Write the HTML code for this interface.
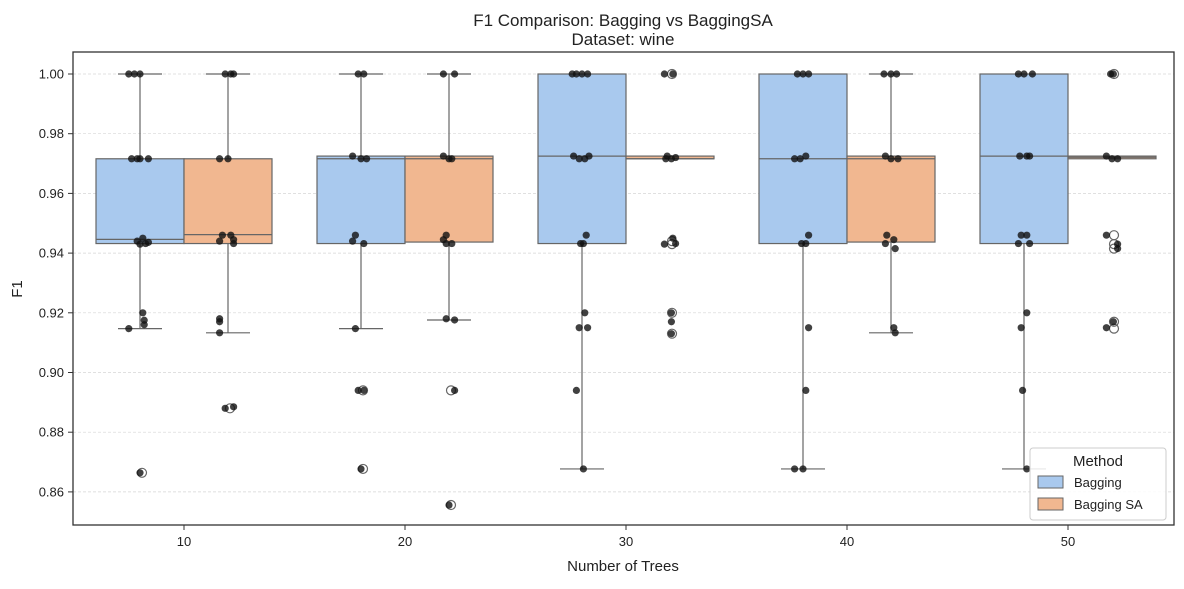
<!DOCTYPE html>
<html><head><meta charset="utf-8"><style>
body{margin:0;background:#fff}
svg text{font-family:"Liberation Sans",sans-serif;fill:#222}
</style></head><body>
<svg width="1184" height="584" viewBox="0 0 1184 584">
<text x="623" y="26" text-anchor="middle" font-size="17">F1 Comparison: Bagging vs BaggingSA</text>
<text x="623" y="45" text-anchor="middle" font-size="17">Dataset: wine</text>
<g id="grid"></g><g id="boxes"></g><g id="pts"></g><g id="axes"></g>
<text x="623" y="571" text-anchor="middle" font-size="15">Number of Trees</text>
<text transform="translate(22,289) rotate(-90)" text-anchor="middle" font-size="15">F1</text>
<rect x="73" y="52" width="1101" height="473" fill="none" stroke="#333" stroke-width="1.3"/>
<g>
<rect x="1030" y="448" width="136" height="72" rx="3" fill="#fff" fill-opacity="0.85" stroke="#ccc"/>
<text x="1098" y="466" text-anchor="middle" font-size="15">Method</text>
<rect x="1038" y="476" width="25" height="12" fill="#a9c9ee" stroke="#666"/>
<text x="1074" y="487" font-size="13">Bagging</text>
<rect x="1038" y="498" width="25" height="12" fill="#f1b790" stroke="#666"/>
<text x="1074" y="509" font-size="13">Bagging SA</text>
</g>
</svg>
<script>
const categories=["10","20","30","40","50"];
const yTicks=[0.86,0.88,0.90,0.92,0.94,0.96,0.98,1.00];
const baggingQ1=[0.9432,0.9432,0.9432,0.9432,0.9432];
const baggingMed=[0.9446,0.9716,0.9725,0.9716,0.9725];
const baggingQ3=[0.9716,0.9725,1.0,1.0,1.0];
const baggingLo=[0.9147,0.9147,0.8677,0.8677,0.8677];
const baggingHi=[1.0,1.0,1.0,1.0,1.0];
const saQ1=[0.9432,0.9437,0.9716,0.9437,0.9716];
const saMed=[0.9462,0.9716,0.9716,0.9716,0.9721];
const saQ3=[0.9716,0.9725,0.9725,0.9725,0.9725];
const saLo=[0.9133,0.9176,0.9716,0.9133,0.9716];
const saHi=[1.0,1.0,0.9725,1.0,0.9725];
const baggingOutliers=[[0.8664],[0.894,0.8677],[],[],[]];
const saOutliers=[[0.888],[0.894,0.8556],[1.0,0.944,0.943,0.92,0.913],[],[1.0,0.946,0.943,0.9415,0.917,0.9147]];
// strip points: [value, jitter (-1..1)]
const baggingPts=[
[[1,-0.4],[1,-0.2],[1,0],[0.9716,-0.3],[0.9716,-0.1],[0.9716,0.3],[0.9716,0],[0.945,0.1],[0.9432,0.2],[0.9436,0.3],[0.9440,-0.1],[0.9430,0],[0.92,0.1],[0.9175,0.15],[0.916,0.15],[0.9147,-0.4],[0.8664,0]],
[[1,-0.1],[1,0.1],[0.9725,-0.3],[0.9716,0],[0.9716,0.2],[0.946,-0.2],[0.944,-0.3],[0.9432,0.1],[0.9147,-0.2],[0.894,-0.1],[0.894,0.1],[0.8677,0]],
[[1,-0.35],[1,-0.2],[1,0],[1,0.2],[0.9725,-0.3],[0.9716,-0.1],[0.9716,0.1],[0.9725,0.25],[0.946,0.15],[0.9432,0.05],[0.9432,-0.05],[0.92,0.1],[0.915,-0.1],[0.915,0.2],[0.894,-0.2],[0.8677,0.05]],
[[1,-0.2],[1,0],[1,0.2],[0.9716,-0.3],[0.9716,-0.1],[0.9725,0.1],[0.946,0.2],[0.9432,0.1],[0.9432,-0.05],[0.915,0.2],[0.894,0.1],[0.8677,-0.3],[0.8677,0]],
[[1,-0.2],[1,0],[1,0.3],[0.9725,-0.15],[0.9725,0.1],[0.9725,0.2],[0.946,-0.1],[0.946,0.1],[0.9432,-0.2],[0.9432,0.2],[0.92,0.1],[0.915,-0.1],[0.894,-0.05],[0.8677,0.1]]];
const saPts=[
[[1,-0.1],[1,0.1],[1,0.2],[0.9716,-0.3],[0.9716,0],[0.946,-0.2],[0.946,0.1],[0.9445,0.2],[0.9440,-0.3],[0.9432,0.2],[0.918,-0.3],[0.917,-0.3],[0.9133,-0.3],[0.888,-0.1],[0.8885,0.2]],
[[1,-0.2],[1,0.2],[0.9725,-0.2],[0.9716,0],[0.9716,0.1],[0.946,-0.1],[0.9445,-0.2],[0.9432,0.1],[0.9432,-0.1],[0.918,-0.1],[0.9176,0.2],[0.894,0.2],[0.8556,0]],
[[1,-0.2],[1,0.1],[0.9725,-0.1],[0.9716,0.05],[0.9720,0.2],[0.9716,-0.15],[0.945,0.1],[0.9432,0.2],[0.943,-0.2],[0.92,0.05],[0.917,0.05],[0.913,0.05]],
[[1,-0.25],[1,0],[1,0.2],[0.9725,-0.2],[0.9716,0],[0.9716,0.25],[0.946,-0.15],[0.9445,0.1],[0.9432,-0.2],[0.9415,0.15],[0.915,0.1],[0.9133,0.15]],
[[1,-0.05],[1,0.05],[0.9725,-0.2],[0.9716,0],[0.9716,0.2],[0.946,-0.2],[0.943,0.2],[0.9415,0.2],[0.917,0.05],[0.915,-0.2]]];

const NS="http://www.w3.org/2000/svg";
const x0=184,dx=221,bw=88,plotL=73,plotR=1174;
const y=v=>74+(1-v)/0.02*59.7;
function mk(tag,attrs,parent){const e=document.createElementNS(NS,tag);for(const k in attrs)e.setAttribute(k,attrs[k]);document.getElementById(parent).appendChild(e);return e;}
yTicks.forEach(t=>{
 const g=mk('line',{x1:plotL,x2:plotR,y1:y(t),y2:y(t),stroke:'#d6d6d6','stroke-width':0.7,'stroke-dasharray':'3,2'},'grid');
 
 
 const tk=mk('line',{x1:plotL-5,x2:plotL,y1:y(t),y2:y(t),stroke:'#333'},'axes');
 
 
 const tx=mk('text',{x:plotL-9,y:y(t)+4.5,'text-anchor':'end','font-size':13},'axes');
 tx.textContent=t.toFixed(2);
 
 
});
categories.forEach((c,i)=>{
 const cx=x0+i*dx;
 const tk=mk('line',{x1:cx,x2:cx,y1:525,y2:530,stroke:'#333'},'axes');
 
 
 const tx=mk('text',{x:cx,y:546,'text-anchor':'middle','font-size':13},'axes');
 tx.textContent=c;
 
 
});
function drawBox(cx,q1,med,q3,lo,hi,fill,name){
 const st='#666';
 if(hi>q3){const l=mk('line',{x1:cx,x2:cx,y1:y(hi),y2:y(q3),stroke:st,'stroke-width':1.2},'boxes');
  const c=mk('line',{x1:cx-22,x2:cx+22,y1:y(hi),y2:y(hi),stroke:st,'stroke-width':1.2},'boxes');}
 if(lo<q1){const l=mk('line',{x1:cx,x2:cx,y1:y(q1),y2:y(lo),stroke:st,'stroke-width':1.2},'boxes');
  const c=mk('line',{x1:cx-22,x2:cx+22,y1:y(lo),y2:y(lo),stroke:st,'stroke-width':1.2},'boxes');}
 const r=mk('rect',{x:cx-bw/2,y:y(q3),width:bw,height:Math.max(y(q1)-y(q3),1),fill:fill,stroke:st,'stroke-width':1.2},'boxes');
 
 
 const m=mk('line',{x1:cx-bw/2,x2:cx+bw/2,y1:y(med),y2:y(med),stroke:st,'stroke-width':1.2},'boxes');
 
 
}
function drawPts(cx,pts,outs,name){
 outs.forEach(v=>{const o=mk('circle',{cx:cx+2,cy:y(v),r:4.5,fill:'none',stroke:'#666','stroke-width':1.2},'pts');});
 pts.forEach(p=>{const o=mk('circle',{cx:cx+p[1]*28,cy:y(p[0]),r:3.6,fill:'#111','fill-opacity':0.8},'pts');});
}
categories.forEach((c,i)=>{
 const cx=x0+i*dx;
 drawBox(cx-44,baggingQ1[i],baggingMed[i],baggingQ3[i],baggingLo[i],baggingHi[i],'#a9c9ee','bagging-'+c);
 drawBox(cx+44,saQ1[i],saMed[i],saQ3[i],saLo[i],saHi[i],'#f1b790','bagging-sa-'+c);
 drawPts(cx-44,baggingPts[i],baggingOutliers[i],'bagging-'+c);
 drawPts(cx+44,saPts[i],saOutliers[i],'bagging-sa-'+c);
});
</script>
</body></html>
